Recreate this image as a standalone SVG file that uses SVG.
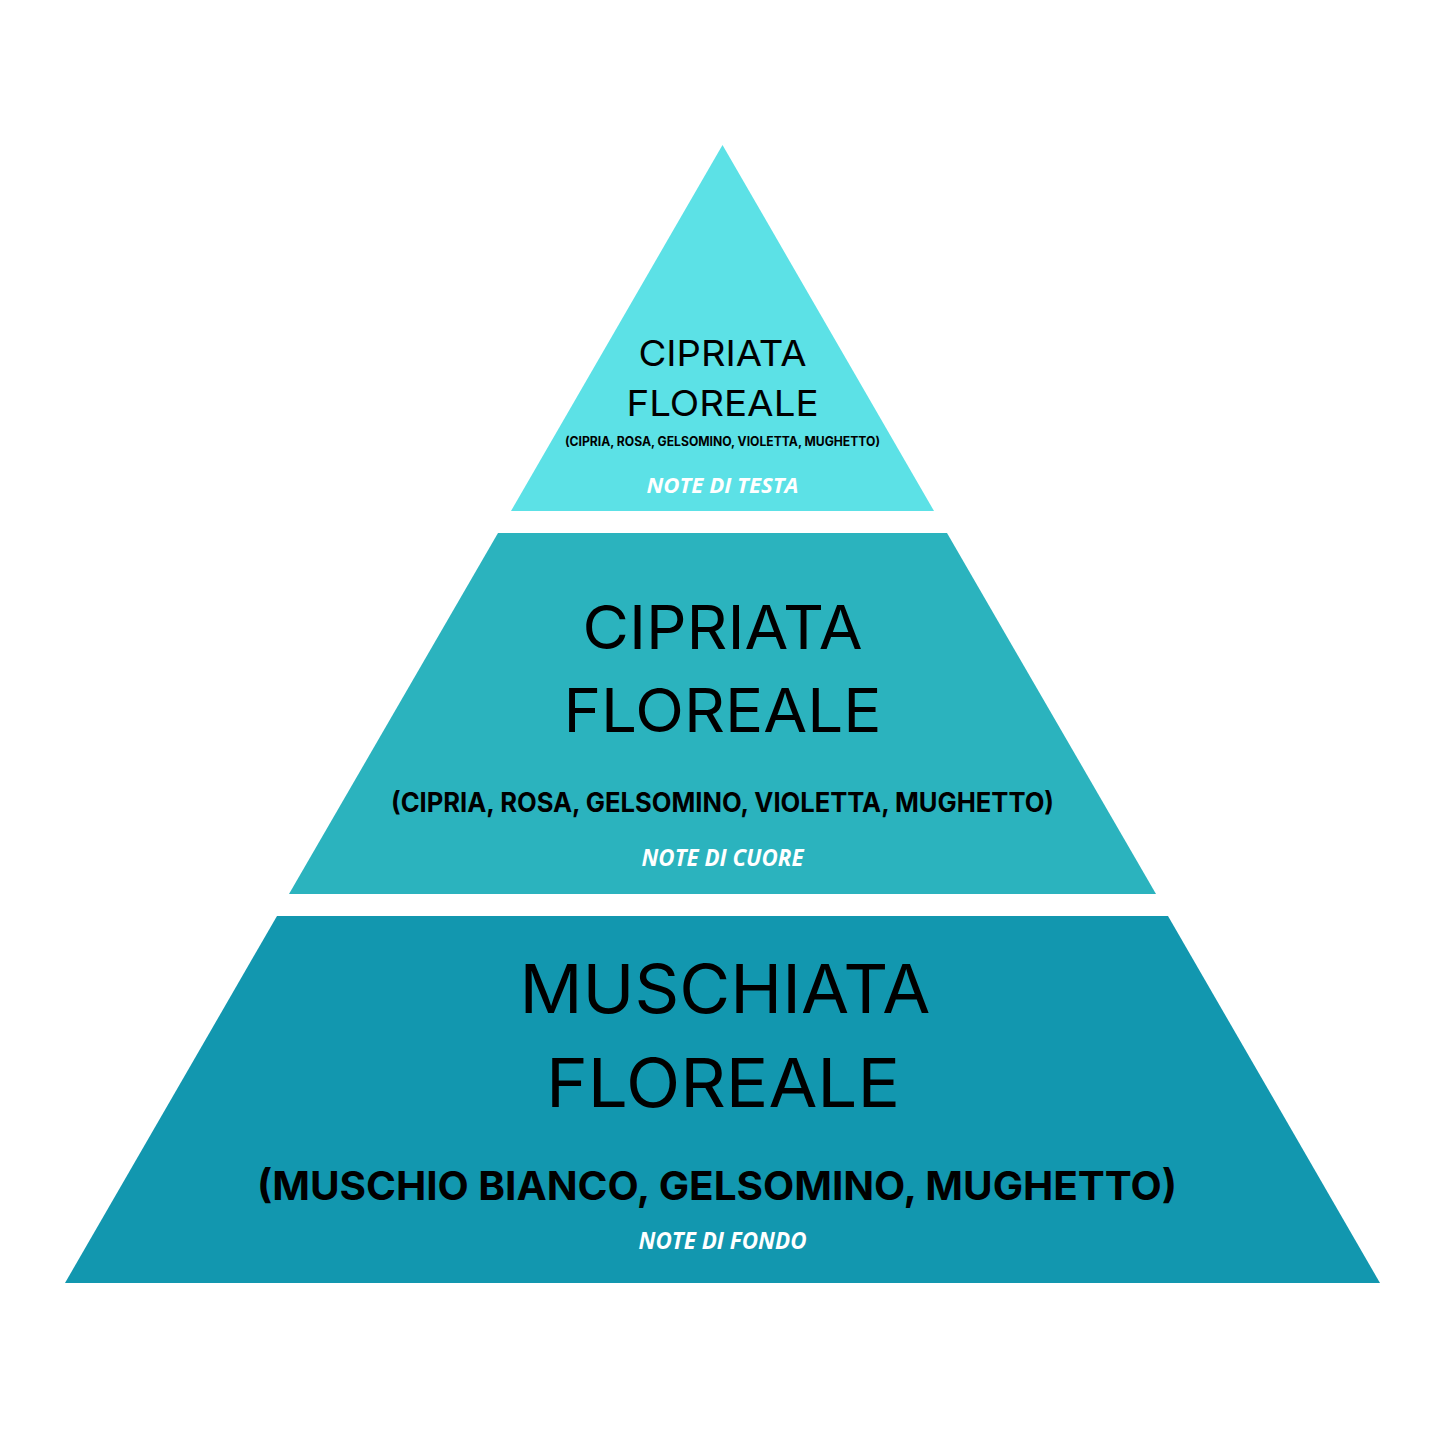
<svg xmlns="http://www.w3.org/2000/svg" width="1445" height="1445" viewBox="0 0 1445 1445">
  <style>
    .title { font-family: Inter, "Noto Sans", "DejaVu Sans", sans-serif; font-weight: 400; fill: #000; text-anchor: middle; }
    .sub { font-family: Inter, "Noto Sans", "DejaVu Sans", sans-serif; font-weight: 700; fill: #000; text-anchor: middle; }
    .note { font-family: "Open Sans", "Noto Sans", sans-serif; font-weight: 700; font-style: italic; fill: #fff; text-anchor: middle; }
  </style>
  <rect width="1445" height="1445" fill="#fff"/>
  <g id="top-tier">
    <polygon points="722.5,145 511,511 934,511" fill="#5CE1E6"/>
    <text class="title" x="722.5" y="366" font-size="36" textLength="168" lengthAdjust="spacingAndGlyphs">CIPRIATA</text>
    <text class="title" x="722.5" y="416" font-size="36" textLength="192" lengthAdjust="spacingAndGlyphs">FLOREALE</text>
    <text class="sub" x="722.5" y="446" font-size="12.5" textLength="315" lengthAdjust="spacingAndGlyphs">(CIPRIA, ROSA, GELSOMINO, VIOLETTA, MUGHETTO)</text>
    <text class="note" x="722.5" y="493" font-size="21" textLength="152" lengthAdjust="spacingAndGlyphs">NOTE DI TESTA</text>
  </g>
  <g id="middle-tier">
    <polygon points="498,533 947,533 1156,894 289,894" fill="#2BB3BE"/>
    <text class="title" x="722.5" y="649" font-size="61" textLength="280" lengthAdjust="spacingAndGlyphs">CIPRIATA</text>
    <text class="title" x="722.5" y="732" font-size="61" textLength="318" lengthAdjust="spacingAndGlyphs">FLOREALE</text>
    <text class="sub" x="722.5" y="812" font-size="27" textLength="663" lengthAdjust="spacingAndGlyphs">(CIPRIA, ROSA, GELSOMINO, VIOLETTA, MUGHETTO)</text>
    <text class="note" x="722.5" y="866" font-size="23" textLength="162" lengthAdjust="spacingAndGlyphs">NOTE DI CUORE</text>
  </g>
  <g id="bottom-tier">
    <polygon points="277,916 1168,916 1380,1283 65,1283" fill="#1297AF"/>
    <text class="title" x="725" y="1013" font-size="67" textLength="411" lengthAdjust="spacingAndGlyphs">MUSCHIATA</text>
    <text class="title" x="723" y="1107" font-size="67" textLength="354" lengthAdjust="spacingAndGlyphs">FLOREALE</text>
    <text class="sub" x="717" y="1200" font-size="40" textLength="920" lengthAdjust="spacingAndGlyphs">(MUSCHIO BIANCO, GELSOMINO, MUGHETTO)</text>
    <text class="note" x="722.5" y="1249" font-size="23" textLength="168" lengthAdjust="spacingAndGlyphs">NOTE DI FONDO</text>
  </g>
  <g id="connectors"/>
</svg>
